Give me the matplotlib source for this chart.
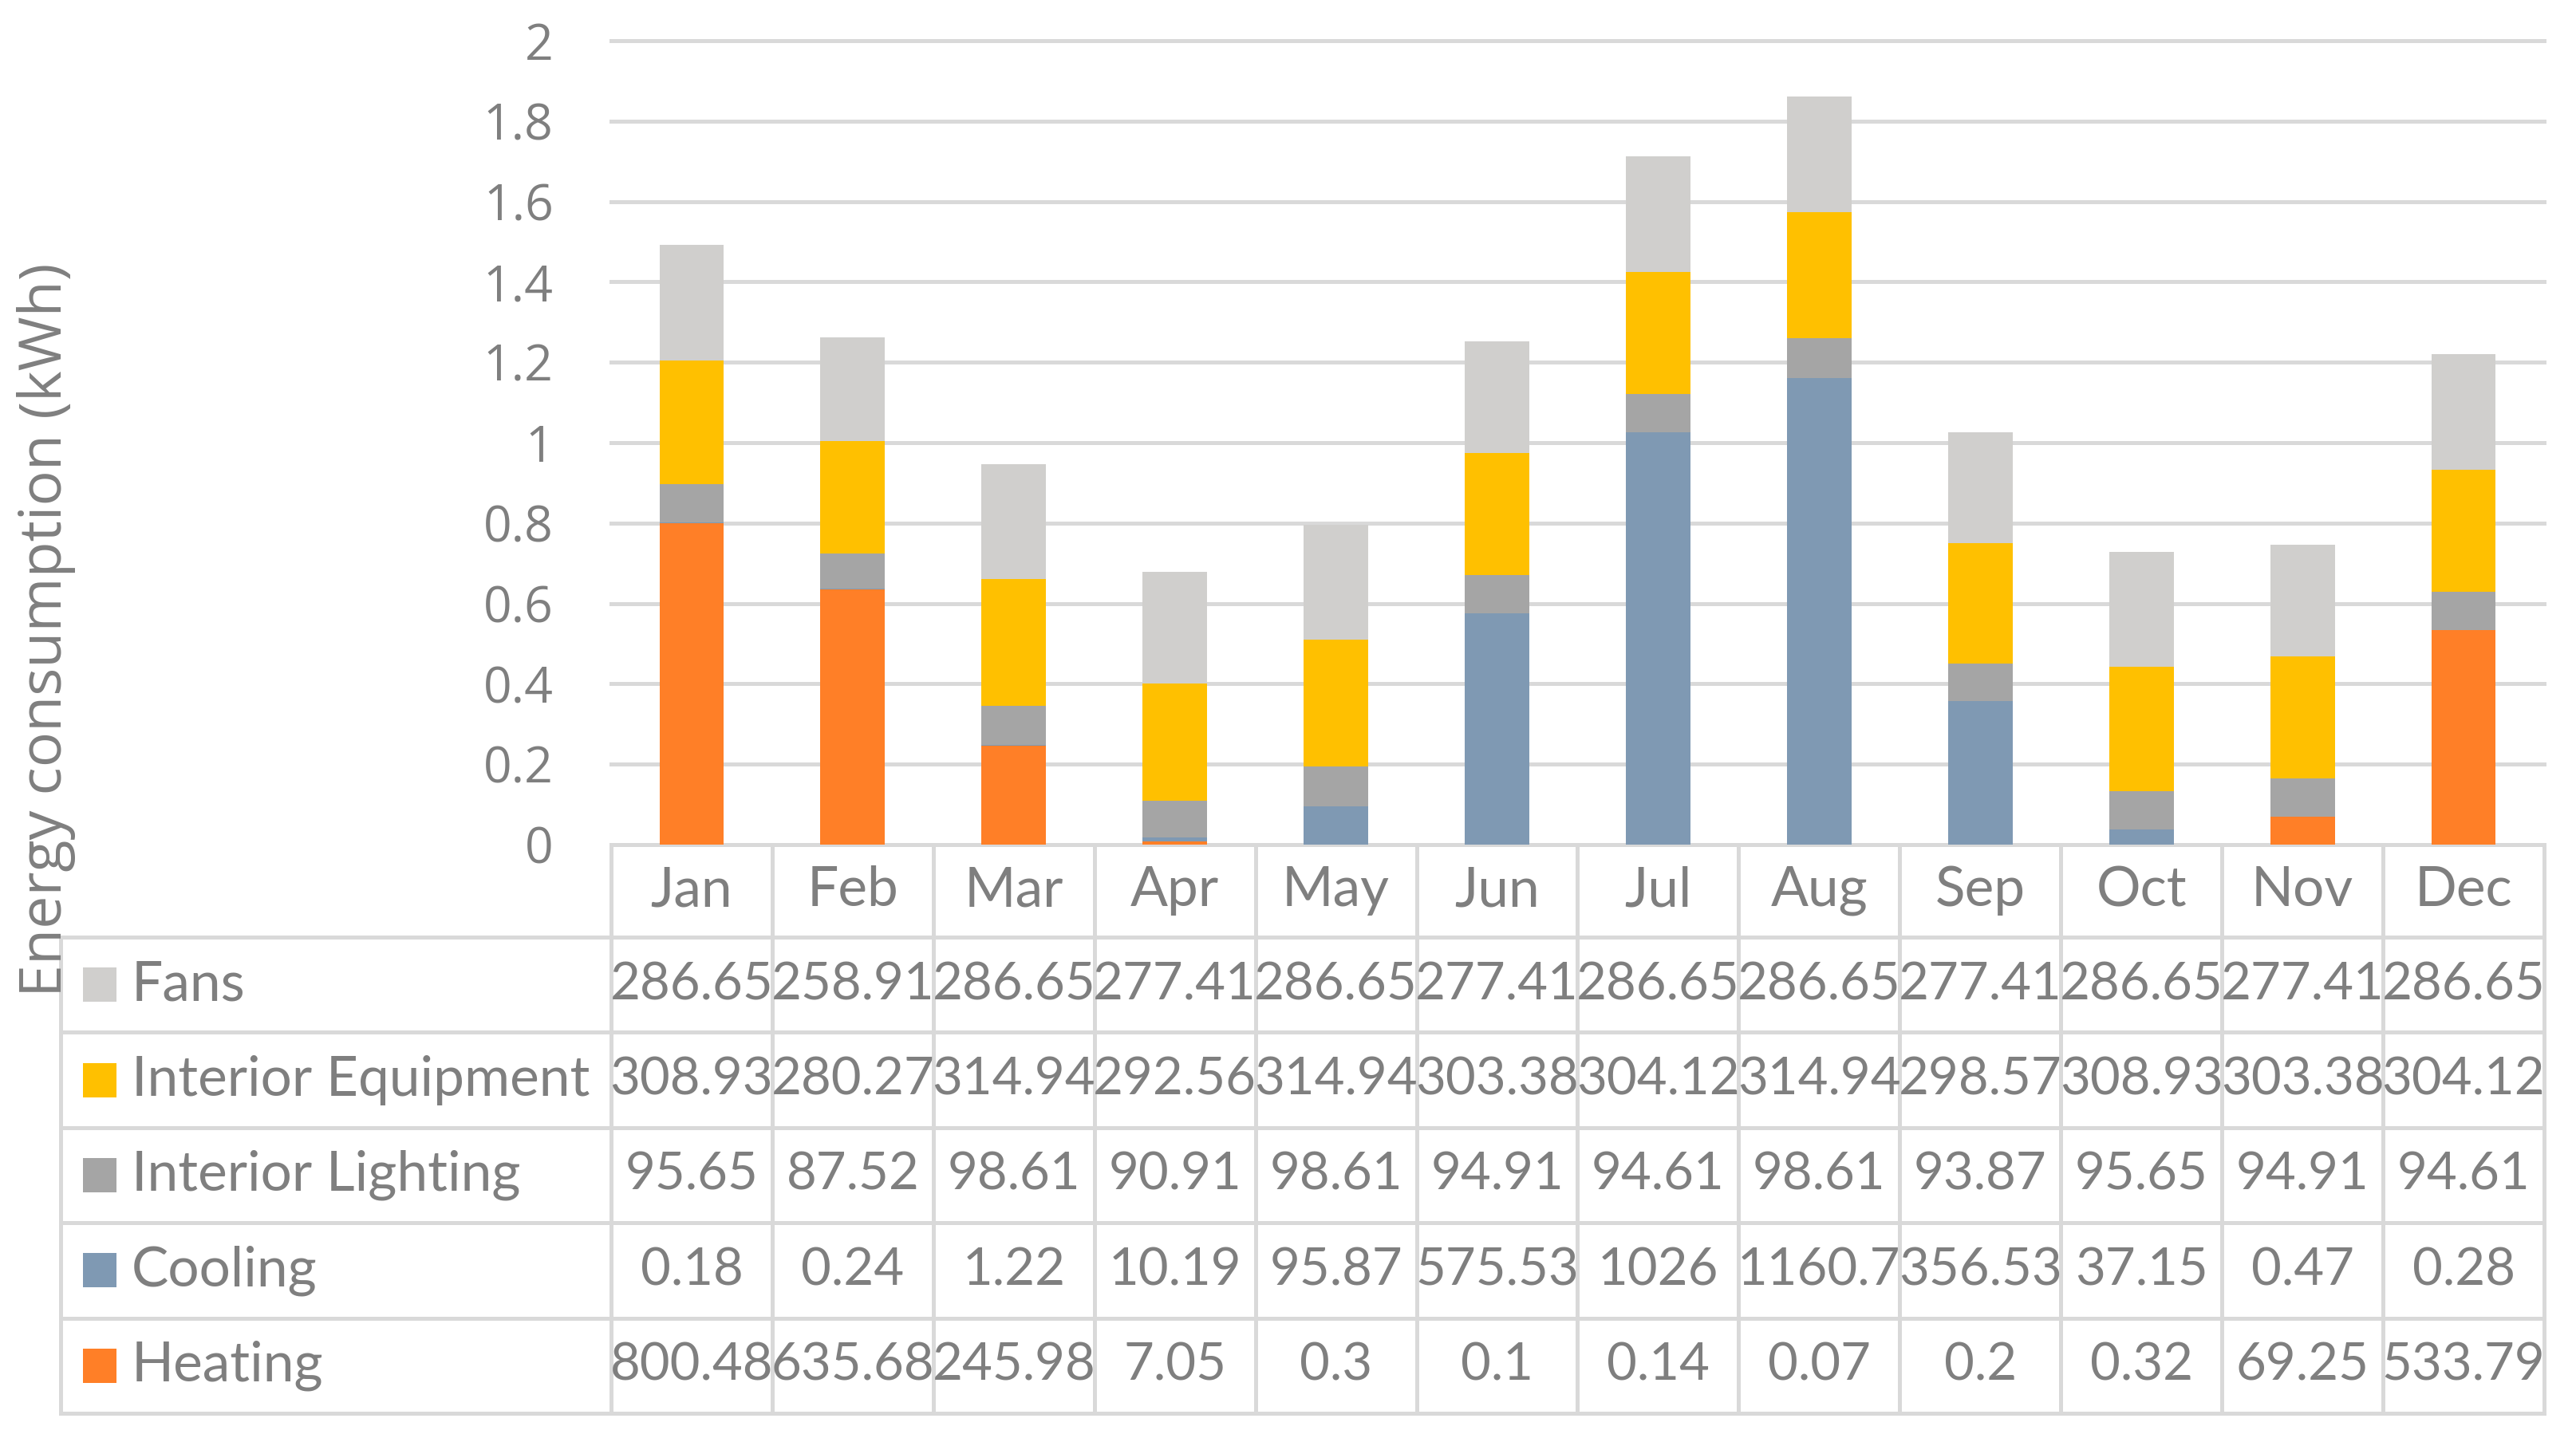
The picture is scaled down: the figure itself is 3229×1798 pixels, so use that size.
import matplotlib
matplotlib.use("Agg")
import matplotlib.pyplot as plt
import numpy as np

months = ["Jan", "Feb", "Mar", "Apr", "May", "Jun", "Jul", "Aug", "Sep", "Oct", "Nov", "Dec"]
heating = [800.48, 635.68, 245.98, 7.05, 0.3, 0.1, 0.14, 0.07, 0.2, 0.32, 69.25, 533.79]
cooling = [0.18, 0.24, 1.22, 10.19, 95.87, 575.53, 1026, 1160.7, 356.53, 37.15, 0.47, 0.28]
lighting = [95.65, 87.52, 98.61, 90.91, 98.61, 94.91, 94.61, 98.61, 93.87, 95.65, 94.91, 94.61]
equipment = [308.93, 280.27, 314.94, 292.56, 314.94, 303.38, 304.12, 314.94, 298.57, 308.93, 303.38, 304.12]
fans = [286.65, 258.91, 286.65, 277.41, 286.65, 277.41, 286.65, 286.65, 277.41, 286.65, 277.41, 286.65]

series_names = ["Heating", "Cooling", "Interior Lighting", "Interior Equipment", "Fans"]
series_vals = [heating, cooling, lighting, equipment, fans]
series_colors = ["#FF7F27", "#7F99B3", "#A5A5A5", "#FFC000", "#D0CFCD"]
yticks = [0, 0.2, 0.4, 0.6, 0.8, 1.0, 1.2, 1.4, 1.6, 1.8, 2.0]

W, H = 3230, 1798
DPI = 100
fig = plt.figure(figsize=(W / DPI, H / DPI), dpi=DPI)

TXT = "#7F7F7F"
GRID = "#D9D9D9"
px = 72.0 / DPI  # points per pixel

# plot area in pixels
pl, pr, pt, pb = 766, 3189, 51, 1059
ax = fig.add_axes([pl / W, 1 - pb / H, (pr - pl) / W, (pb - pt) / H])
x = np.arange(len(months))
bottom = np.zeros(len(months))
for name, vals, col in zip(series_names, series_vals, series_colors):
    v = np.array(vals) / 1000.0
    ax.bar(x, v, width=0.4, bottom=bottom, color=col, zorder=3, linewidth=0)
    bottom += v
ax.set_xlim(-0.5, len(months) - 0.5)
ax.set_ylim(0, 2)
ax.set_yticks(yticks)
ax.set_yticklabels([f"{t:g}" for t in yticks], fontsize=45, color=TXT, family="Open Sans")
ax.tick_params(axis="y", length=0, pad=52)
ax.set_xticks([])
for s in ax.spines.values():
    s.set_visible(False)
for t in yticks:
    ax.axhline(t, color=GRID, lw=5 * px, zorder=1, clip_on=False)

# table drawn in pixel coordinates
tb = fig.add_axes([0, 0, 1, 1])
tb.set_xlim(0, W)
tb.set_ylim(H, 0)
tb.axis("off")
tl = 76
colw = (pr - pl) / len(months)
header_bot = 1175
row_h = (1772 - header_bot) / len(series_names)
tbot = header_bot + row_h * len(series_names)
lw = 5 * px
for i in range(len(months) + 1):
    xx = pl + i * colw
    tb.plot([xx, xx], [pb, tbot], color=GRID, lw=lw, solid_capstyle="projecting")
tb.plot([tl, tl], [header_bot, tbot], color=GRID, lw=lw, solid_capstyle="projecting")
tb.plot([tl, pr], [header_bot, header_bot], color=GRID, lw=lw)
for r in range(len(series_names)):
    yy = header_bot + (r + 1) * row_h
    tb.plot([tl, pr], [yy, yy], color=GRID, lw=lw, solid_capstyle="projecting")

FS_NUM = 47
FS_NAME = 50
for i, m in enumerate(months):
    tb.text(pl + (i + 0.5) * colw, (pb + header_bot) / 2, m, ha="center", va="center",
            fontsize=FS_NAME, color=TXT, family="Lato")

rows = list(zip(series_names, series_vals, series_colors))[::-1]
for r, (name, vals, col) in enumerate(rows):
    yc = header_bot + (r + 0.5) * row_h
    tb.add_patch(plt.Rectangle((104, yc - 21.5), 42, 43, color=col, lw=0))
    tb.text(165, yc, name, ha="left", va="center", fontsize=FS_NAME, color=TXT, family="Lato")
    for i, v in enumerate(vals):
        tb.text(pl + (i + 0.5) * colw, yc, f"{v:g}", ha="center", va="center",
                fontsize=FS_NUM, color=TXT, family="Lato")

fig.text(58 / W, 1 - 790 / H, "Energy consumption (kWh)", rotation=90, ha="center", va="center",
         fontsize=53, color=TXT, family="Open Sans")

fig.savefig("out.png", dpi=DPI, facecolor="white")
